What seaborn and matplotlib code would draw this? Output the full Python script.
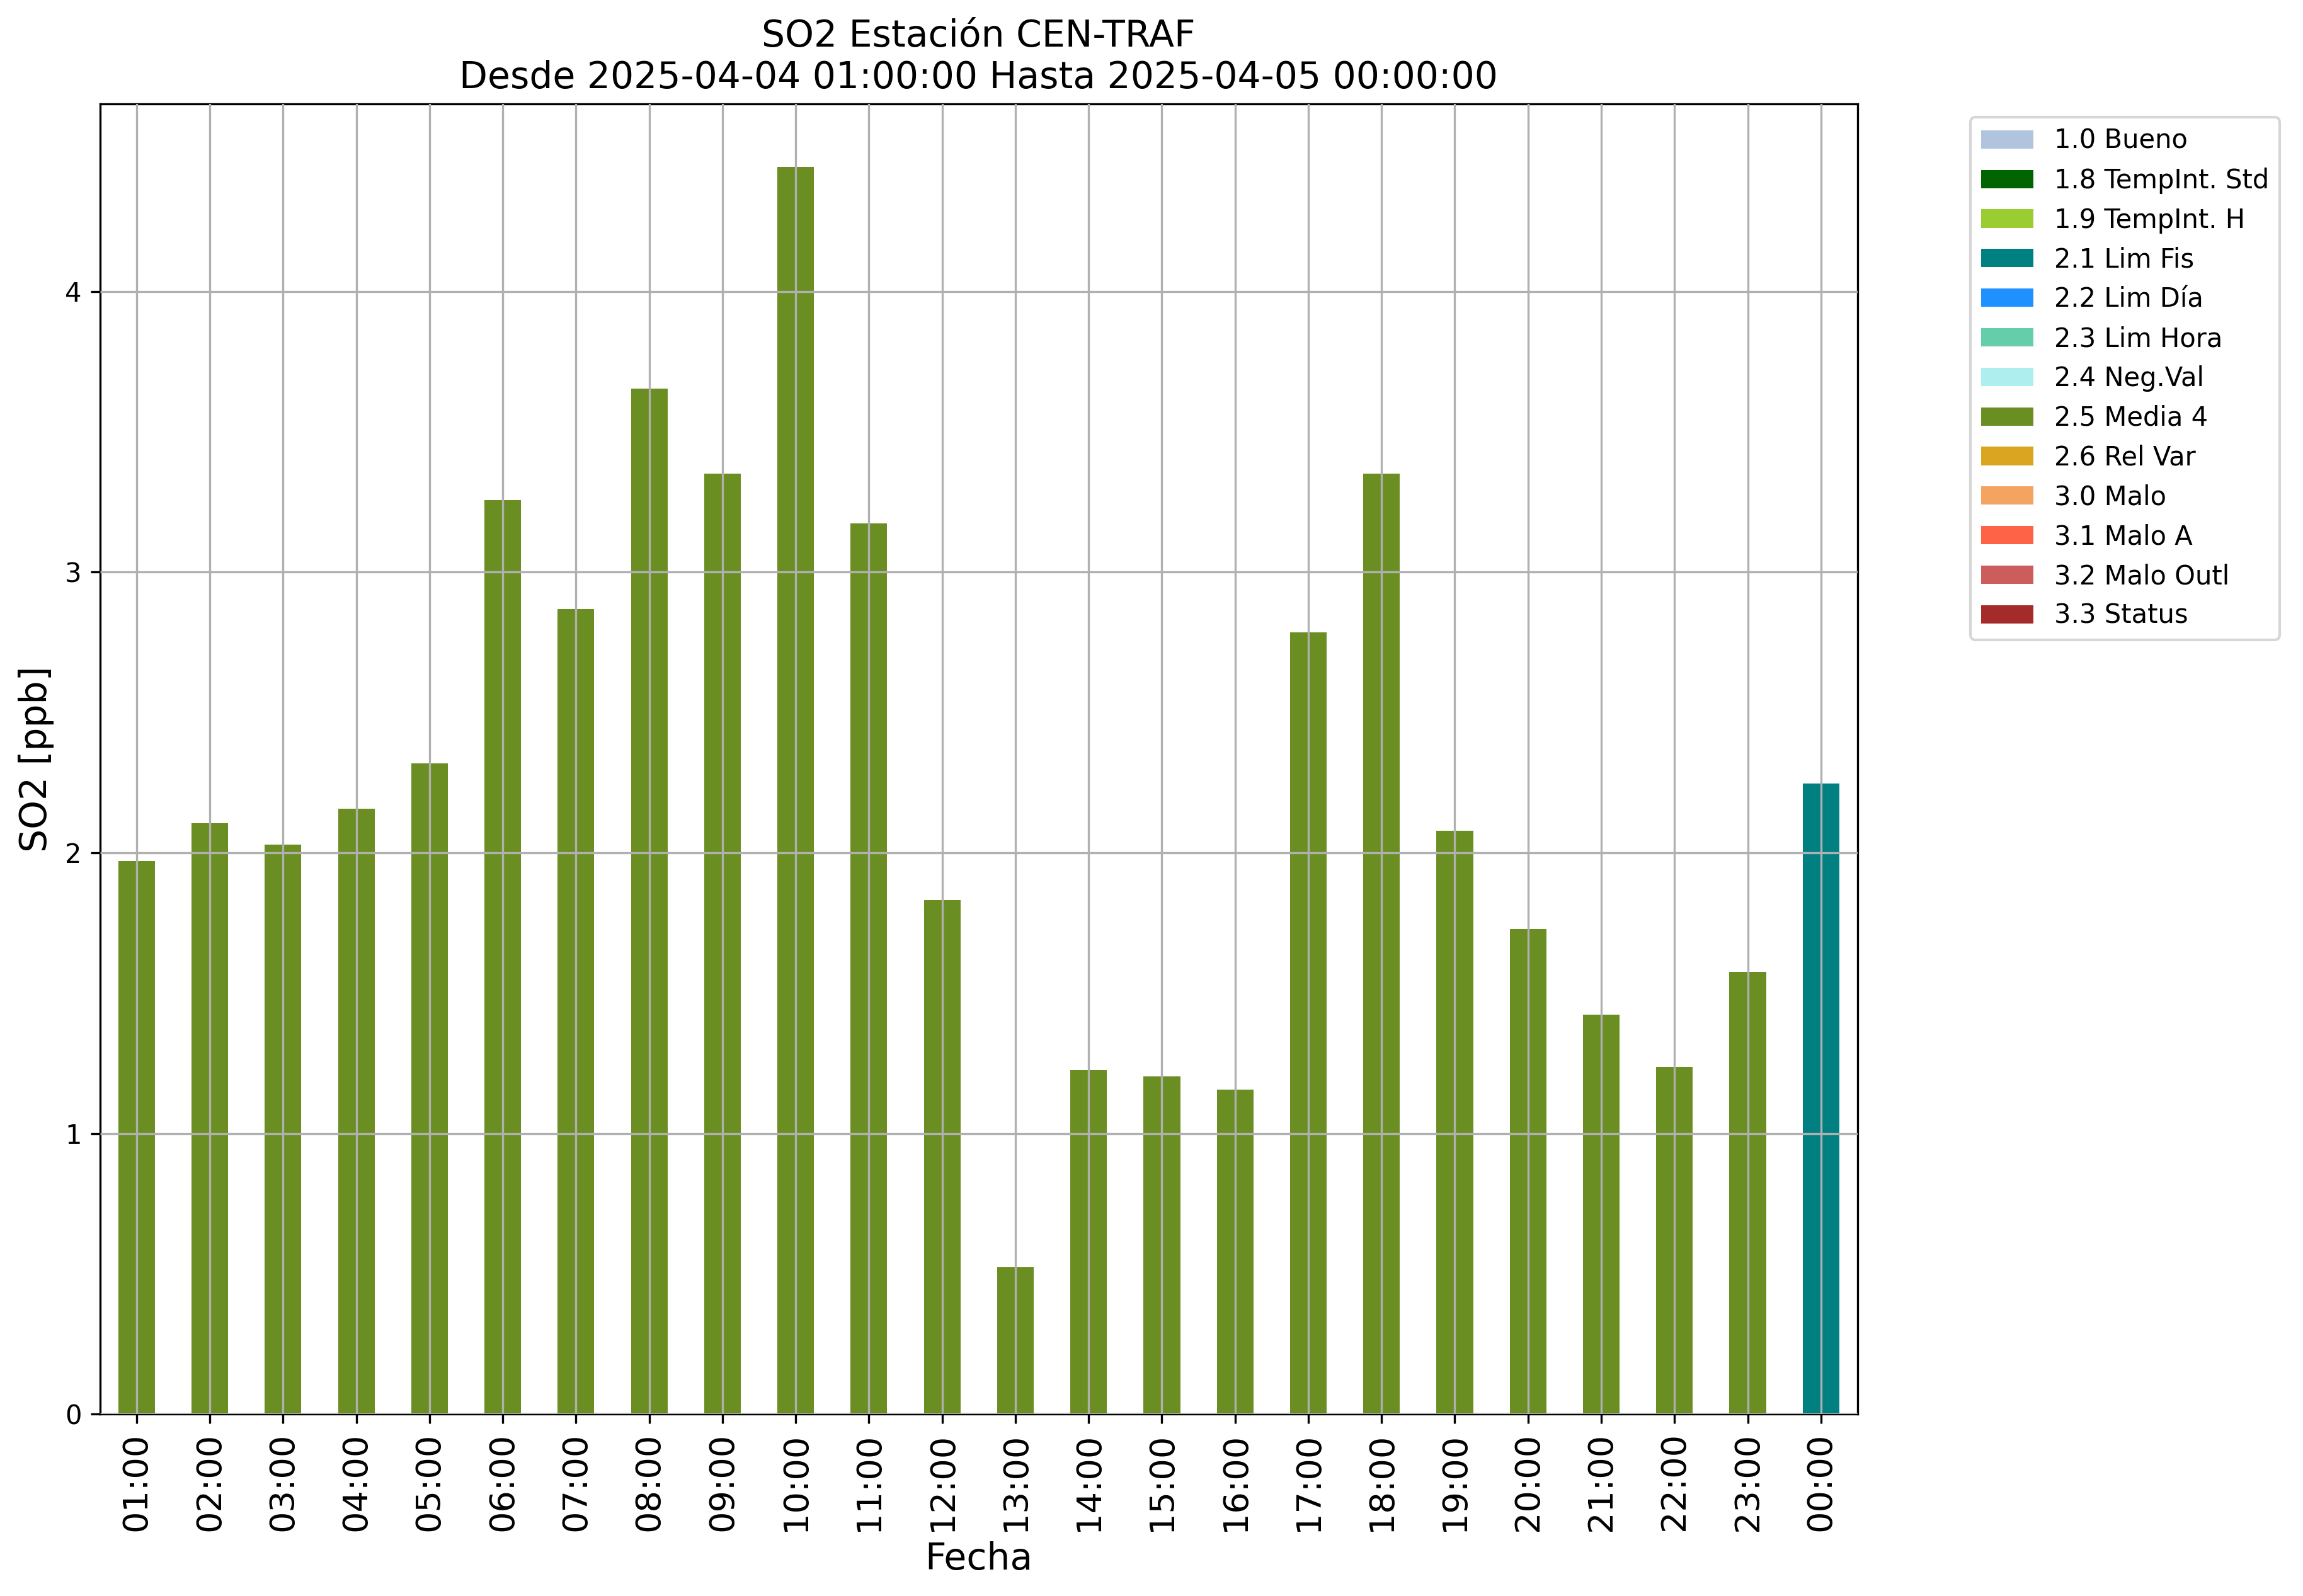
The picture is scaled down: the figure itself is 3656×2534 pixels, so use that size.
import matplotlib
matplotlib.use("Agg")
import matplotlib.pyplot as plt
from matplotlib.patches import Patch
import seaborn as sns
import pandas as pd

hours = ["01:00", "02:00", "03:00", "04:00", "05:00", "06:00", "07:00", "08:00",
         "09:00", "10:00", "11:00", "12:00", "13:00", "14:00", "15:00", "16:00",
         "17:00", "18:00", "19:00", "20:00", "21:00", "22:00", "23:00", "00:00"]
so2 = [1.97, 2.105, 2.03, 2.157, 2.319, 3.257, 2.869, 3.654,
       3.351, 4.445, 3.173, 1.832, 0.524, 1.225, 1.204, 1.157,
       2.785, 3.351, 2.079, 1.728, 1.424, 1.236, 1.576, 2.246]
flags = ["2.5 Media 4"] * 23 + ["2.1 Lim Fis"]

legend_labels = ["1.0 Bueno", "1.8 TempInt. Std", "1.9 TempInt. H", "2.1 Lim Fis",
                 "2.2 Lim Día", "2.3 Lim Hora", "2.4 Neg.Val", "2.5 Media 4",
                 "2.6 Rel Var", "3.0 Malo", "3.1 Malo A", "3.2 Malo Outl", "3.3 Status"]
legend_colors = ["lightsteelblue", "darkgreen", "yellowgreen", "teal",
                 "dodgerblue", "mediumaquamarine", "paleturquoise", "olivedrab",
                 "goldenrod", "sandybrown", "tomato", "indianred", "brown"]

df = pd.DataFrame({"Fecha": hours, "SO2": so2, "flag": flags})
palette = dict(zip(legend_labels, legend_colors))

fig = plt.figure(figsize=(3656 / 300, 2534 / 300), dpi=300)
ax = fig.add_axes([0.0434, 0.1140, 0.8066 - 0.0434, 0.9347 - 0.1140])

sns.barplot(data=df, x="Fecha", y="SO2", hue="flag", palette=palette,
            order=hours, dodge=False, width=0.5, saturation=1, linewidth=0,
            legend=False, ax=ax)

ax.set_xlim(-0.5, len(hours) - 0.5)
ax.set_ylim(0, max(so2) * 1.05)
ax.grid(True, color="#b0b0b0", linewidth=0.8)
ax.set_axisbelow(False)
ax.set_yticks([0, 1, 2, 3, 4])
ax.tick_params(axis="y", labelsize=10)
ax.tick_params(axis="x", labelsize=13, labelrotation=90)
ax.set_xlabel("Fecha", fontsize=14)
ax.set_ylabel("SO2 [ppb]", fontsize=14)
ax.set_title("SO2 Estación CEN-TRAF\nDesde 2025-04-04 01:00:00 Hasta 2025-04-05 00:00:00",
             fontsize=14)

handles = [Patch(facecolor=c, edgecolor="none") for c in legend_colors]
ax.legend(handles, legend_labels, bbox_to_anchor=(1.0567, 1), loc="upper left",
          fontsize=10)

fig.savefig("out.png", dpi=300)
